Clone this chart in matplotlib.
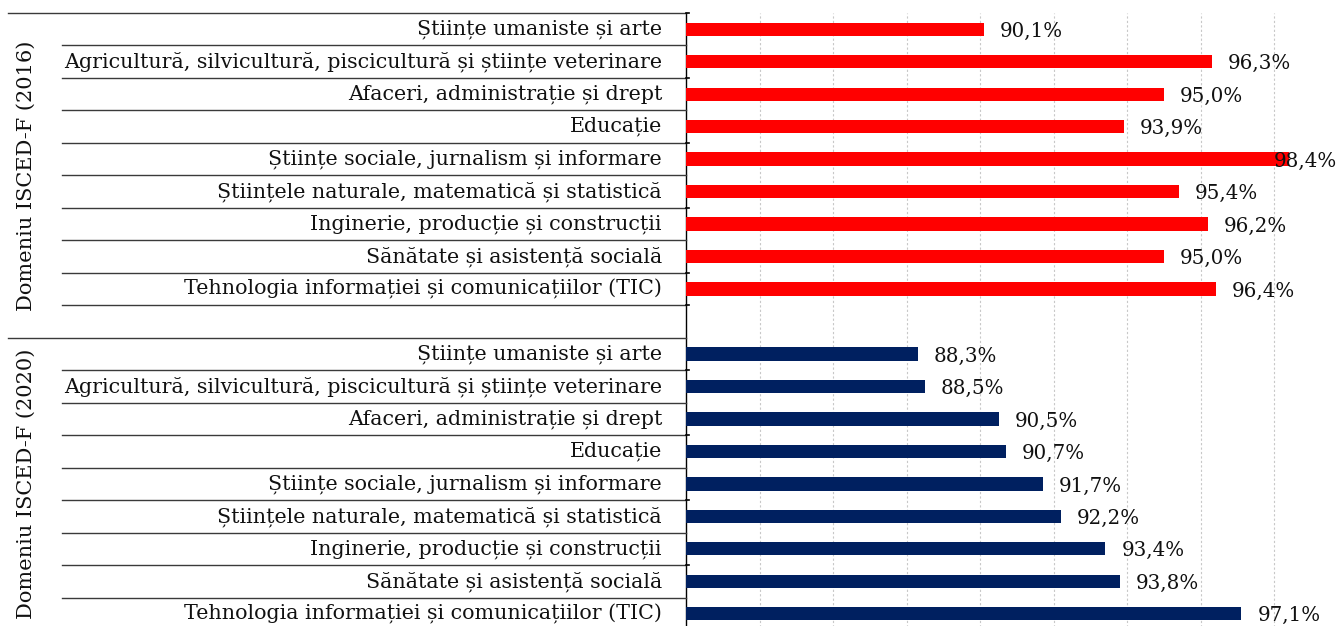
import matplotlib
matplotlib.use("Agg")
import matplotlib.pyplot as plt
from matplotlib.lines import Line2D
from matplotlib.transforms import blended_transform_factory

categories = [
    "Științe umaniste și arte",
    "Agricultură, silvicultură, piscicultură și științe veterinare",
    "Afaceri, administrație și drept",
    "Educație",
    "Științe sociale, jurnalism și informare",
    "Științele naturale, matematică și statistică",
    "Inginerie, producție și construcții",
    "Sănătate și asistență socială",
    "Tehnologia informației și comunicațiilor (TIC)",
]
values_2016 = [90.1, 96.3, 95.0, 93.9, 98.4, 95.4, 96.2, 95.0, 96.4]
values_2020 = [88.3, 88.5, 90.5, 90.7, 91.7, 92.2, 93.4, 93.8, 97.1]
group_labels = ["Domeniu ISCED-F (2016)", "Domeniu ISCED-F (2020)"]
group_colors = ["#FF0000", "#002060"]

W, H = 1343, 626
DPI = 100
FONT = "DejaVu Serif"
FS_CAT = 14.9
FS_VAL = 14.3
FS_GRP = 15.0
TXT = "#111111"

fig = plt.figure(figsize=(W / DPI, H / DPI), dpi=DPI)
ax_left = 686 / W
ax_right_px = 1348
ax_top_px = 13
ax_bottom_px = 630
ax = fig.add_axes([ax_left, 1 - ax_bottom_px / H,
                   (ax_right_px - 686) / W, (ax_bottom_px - ax_top_px) / H])

n = len(categories)
rows = []
for gi, vals in enumerate([values_2016, values_2020]):
    base = gi * (n + 1)
    for i, v in enumerate(vals):
        rows.append((base + i, v, group_colors[gi], categories[i]))

xmin, xmax = 82, 100
ax.set_xlim(xmin, xmax)
ax.set_ylim(2 * n + 0.5, -0.5)

pos = [r[0] for r in rows]
vals = [r[1] for r in rows]
cols = [r[2] for r in rows]
ax.barh(pos, [v - xmin for v in vals], left=xmin, height=0.41, color=cols, zorder=3)

ax.set_xticks(range(84, 101, 2))
ax.xaxis.grid(True, color="#C8C8C8", linestyle=(0, (2, 2)), linewidth=0.8, zorder=0)
ax.tick_params(axis="x", length=0, labelbottom=False)
ax.set_yticks([])
for s in ["top", "right", "bottom"]:
    ax.spines[s].set_visible(False)
ax.spines["left"].set_color("black")
ax.spines["left"].set_linewidth(1.0)

# value labels
for p, v, c, cat in rows:
    txt = f"{v:.1f}%".replace(".", ",")
    x_px = ax.transData.transform((v, p))[0]
    if x_px + 17 + 64 > W:
        dx = -15
    else:
        dx = 16
    ax.annotate(txt, xy=(v, p), xytext=(dx * 72 / DPI, -1.5), textcoords="offset points",
                ha="left", va="center", fontsize=FS_VAL, family=FONT, color=TXT, zorder=4)

# category labels & separator lines
ytrans = blended_transform_factory(fig.transFigure, ax.transData)
for p, v, c, cat in rows:
    ax.text(662 / W, p, cat, transform=ytrans, ha="right", va="center",
            fontsize=FS_CAT, family=FONT, color=TXT)

line_col = "#3a3a3a"
for b in range(0, 2 * n + 1):
    y = b - 0.5
    x0 = 8 if b in (0, n + 1) else 62
    fig.add_artist(Line2D([x0 / W, 686 / W], [y, y], transform=ytrans,
                          color=line_col, linewidth=1.0, clip_on=False))

tick_bounds = [0, 2, 4, 6, 8, 9, 11, 13, 15, 17]
for b in tick_bounds:
    y = b - 0.5
    fig.add_artist(Line2D([686 / W, 689 / W], [y, y], transform=ytrans,
                          color="black", linewidth=1.2, clip_on=False))

# group labels: first group spans its rows plus the blank row
group_spans = [(0, n), (n + 1, 2 * n)]
for lab, (r0, r1) in zip(group_labels, group_spans):
    yc = (r0 + r1) / 2
    ax.text(26 / W, yc, lab, transform=ytrans, ha="center", va="center",
            rotation=90, fontsize=FS_GRP, family=FONT, color=TXT)

fig.savefig("out.png", dpi=DPI)
